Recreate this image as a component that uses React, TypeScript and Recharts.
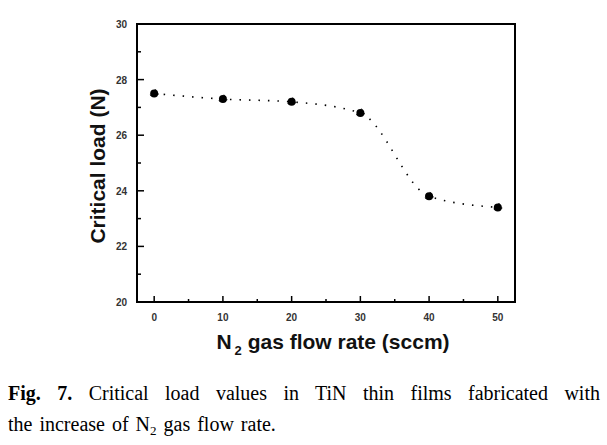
import React from 'react';
import { LineChart, Line, XAxis, YAxis, ReferenceArea } from 'recharts';

const flowRates = [0, 10, 20, 30, 40, 50];
const criticalLoads = [27.5, 27.3, 27.2, 26.8, 23.8, 23.4];
const xTicks = [0, 5, 10, 15, 20, 25, 30, 35, 40, 45, 50];
const yTicks = [20, 21, 22, 23, 24, 25, 26, 27, 28, 29, 30];
const xDomain = [-2.5, 52.5];
const yDomain = [20, 30];

const data = flowRates.map((rate, i) => ({ rate, load: criticalLoads[i] }));

const XTick = (props: any) => {
  const { x, y, payload } = props;
  const major = payload.value % 10 === 0;
  return (
    <g>
      <line x1={x} x2={x} y1={y} y2={y - (major ? 6 : 3)} stroke="#000" strokeWidth={1.5} />
      {major && (
        <text x={x} y={y + 19} textAnchor="middle" fontSize={10} fontWeight="bold" fill="#333"
          fontFamily="'Liberation Sans', Arial, sans-serif">
          {payload.value}
        </text>
      )}
    </g>
  );
};

const YTick = (props: any) => {
  const { x, y, payload } = props;
  const major = payload.value % 2 === 0;
  return (
    <g>
      <line x1={x} x2={x + (major ? 7 : 4)} y1={y} y2={y} stroke="#000" strokeWidth={1.5} />
      {major && (
        <text x={x - 10} y={y + 4} textAnchor="end" fontSize={10} fontWeight="bold" fill="#333"
          fontFamily="'Liberation Sans', Arial, sans-serif">
          {payload.value}
        </text>
      )}
    </g>
  );
};

const XTitle = (props: any) => {
  const { viewBox } = props;
  const cx = viewBox.x + viewBox.width / 2 + 7;
  return (
    <text x={cx} y={viewBox.y + 47} textAnchor="middle" fontSize={21} fontWeight="bold" fill="#111"
      fontFamily="'Liberation Sans', Arial, sans-serif">
      N<tspan fontSize={13} dy={6} dx={3}>2</tspan>
      <tspan dy={-6}> gas flow rate (sccm)</tspan>
    </text>
  );
};

const YTitle = () => {
  const cx = 105;
  const cy = 166;
  return (
    <text x={cx} y={cy} transform={`rotate(-90 ${cx} ${cy})`} textAnchor="middle" fontSize={21}
      fontWeight="bold" fill="#111" fontFamily="'Liberation Sans', Arial, sans-serif">
      Critical load (N)
    </text>
  );
};

const font = "'Liberation Serif', 'Times New Roman', serif";

export default function App() {
  return (
    <div style={{ position: 'absolute', left: 0, top: 0, width: 607, height: 445, background: '#fff' }}>
      <LineChart width={607} height={370} data={data} margin={{ top: 24, right: 92, bottom: 8, left: 0 }}>
        <XAxis xAxisId="b" dataKey="rate" type="number" domain={xDomain} ticks={xTicks}
          allowDataOverflow height={60} tickSize={0} tickMargin={0} tickLine={false} tick={<XTick />}
          axisLine={false} label={<XTitle />} interval={0} />
        <YAxis yAxisId="l" type="number" domain={yDomain} ticks={yTicks} width={137} tickSize={0}
          tickMargin={0} tickLine={false} tick={<YTick />} interval={0} allowDataOverflow
          axisLine={false} label={<YTitle />} />
        <ReferenceArea xAxisId="b" yAxisId="l" x1={xDomain[0]} x2={xDomain[1]} y1={yDomain[0]} y2={yDomain[1]}
          fill="none" fillOpacity={0} stroke="#000" strokeWidth={2} ifOverflow="visible" />
        <Line xAxisId="b" yAxisId="l" type="monotone" dataKey="load" stroke="#000" strokeWidth={1.6}
          strokeDasharray="1.5 8" dot={{ r: 4, fill: '#000', stroke: '#000', strokeWidth: 1 }}
          isAnimationActive={false} />
      </LineChart>
      <div style={{ position: 'absolute', left: 8, top: 381, width: 592, fontFamily: font, fontSize: 20,
        lineHeight: '24px', textAlign: 'justify', textAlignLast: 'justify', color: '#000', whiteSpace: 'nowrap' }}>
        <b>Fig. 7.</b> Critical load values in TiN thin films fabricated with
      </div>
      <div style={{ position: 'absolute', left: 8, top: 412, fontFamily: font, fontSize: 20,
        lineHeight: '24px', color: '#000', whiteSpace: 'nowrap', wordSpacing: 2 }}>
        the increase of N<sub style={{ fontSize: 13, verticalAlign: -4 }}>2</sub> gas flow rate.
      </div>
    </div>
  );
}
